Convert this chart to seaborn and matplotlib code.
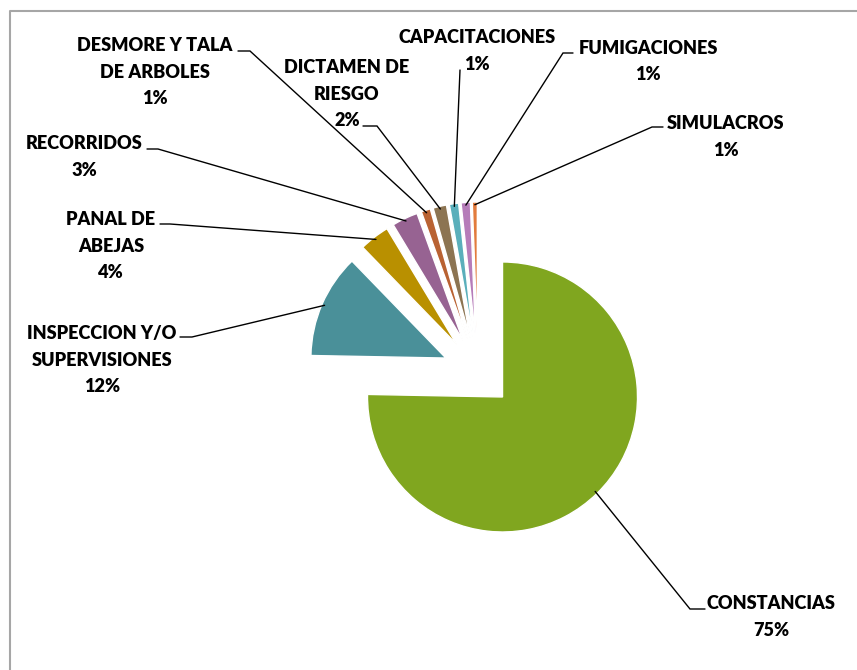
import numpy as np
import matplotlib
matplotlib.use("Agg")
import matplotlib.pyplot as plt
import seaborn as sns

# data (shares of the total)
categories = ["CONSTANCIAS", "INSPECCION Y/O\nSUPERVISIONES", "PANAL DE\nABEJAS",
              "RECORRIDOS", "DESMORE Y TALA\nDE ARBOLES", "DICTAMEN DE\nRIESGO",
              "CAPACITACIONES", "FUMIGACIONES", "SIMULACROS"]
values = [75.0, 12.4, 3.6, 3.1, 1.1, 1.6, 1.1, 1.1, 0.6]
colors = ["#80A61F", "#4A9099", "#B99000", "#976392", "#B96232",
          "#8C7452", "#5AAFBB", "#B67CB9", "#E27B3D"]

# label layout in screen pixels: text centre x, first baseline y
label_pos = [(771, 609), (102, 339), (111, 225), (84, 149), (155, 51),
             (347, 73), (477, 43), (648, 54), (726, 129)]
# leader hooks: (outer x, inner x, y)
hooks = [(705, 690, 609), (180, 192, 337), (160, 170, 224), (147, 158, 149),
         (238, 250, 51), (363, 377, 126), (460, 460, 70), (573, 563, 53),
         (663, 652, 127)]

W, H = 857, 670
sns.set_theme(style="white")
plt.rcParams['font.family'] = ['Lato', 'DejaVu Sans']

fig = plt.figure(figsize=(W / 100, H / 100), dpi=100)
ax = fig.add_axes([0, 0, 1, 1])

cx, cy = 478, H - 372
wedges, _ = ax.pie(values, colors=colors, startangle=90, counterclock=False,
                   radius=135, center=(cx, cy), explode=[35] * len(values),
                   wedgeprops=dict(edgecolor="white", linewidth=1))
ax.set_xlim(0, W)
ax.set_ylim(0, H)
ax.set_aspect("equal")
ax.axis("off")

total = sum(values)
step = 26.5
for w, name, v, (tx, ty), (hx0, hx1, hy) in zip(wedges, categories, values, label_pos, hooks):
    lines = name.split("\n") + ["%d%%" % round(v / total * 100)]
    for i, line in enumerate(lines):
        ax.text(tx, H - (ty + i * step), line, ha="center", va="baseline",
                fontsize=13.1, fontweight="heavy", color="black")
    mid = np.deg2rad((w.theta1 + w.theta2) / 2)
    ax_, ay_ = w.center[0] + 0.98 * w.r * np.cos(mid), w.center[1] + 0.98 * w.r * np.sin(mid)
    ax.plot([hx0, hx1, ax_], [H - hy, H - hy, ay_], color="black", lw=1,
            solid_joinstyle="miter")

# chart frame (only top and left edges visible)
ax.plot([10, 10, W + 5], [-5, H - 11, H - 11], color="#A6A6A6", lw=1.5)

fig.savefig("out.png", dpi=100)
